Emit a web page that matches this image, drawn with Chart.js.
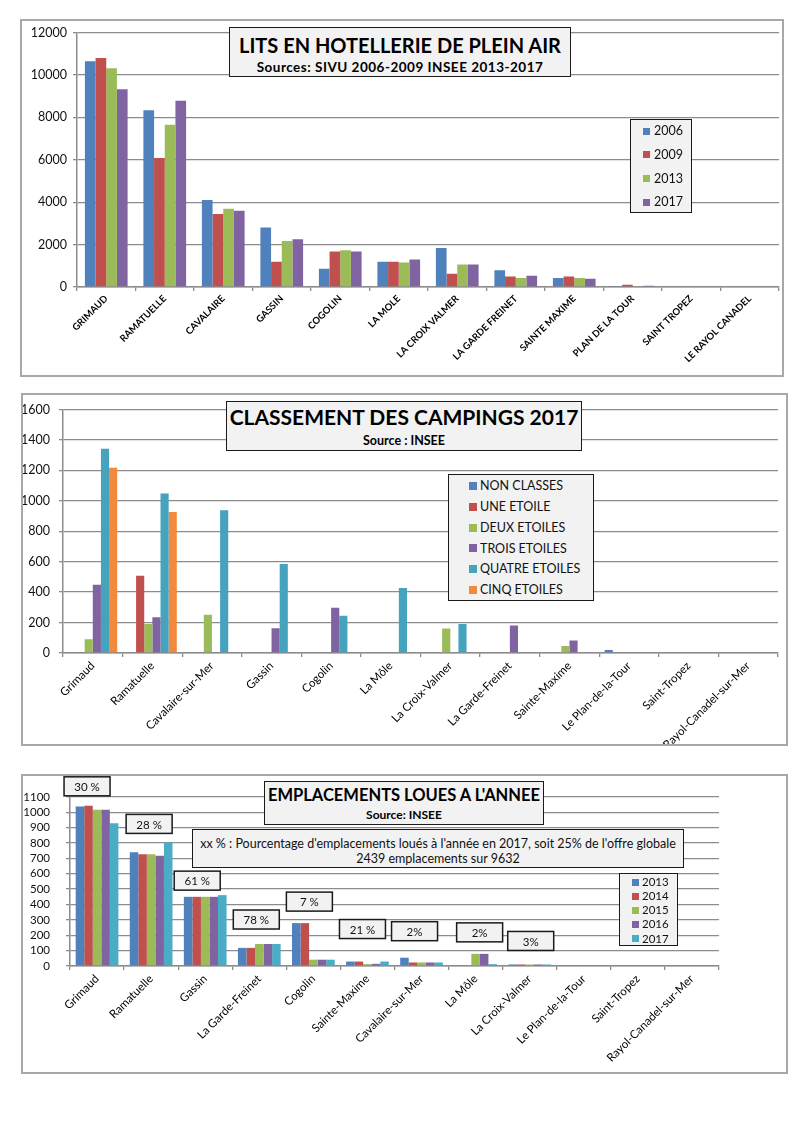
<!DOCTYPE html>
<html><head><meta charset="utf-8">
<script src="https://cdn.jsdelivr.net/npm/chart.js@4.4.0/dist/chart.umd.min.js"></script>
<style>
body{margin:0;background:#fff;}
#page{position:relative;width:800px;height:1132px;font-family:Lato,"Open Sans",sans-serif;color:#111;overflow:hidden;}
canvas{position:absolute;}
.frame{position:absolute;box-sizing:border-box;border:2px solid #a8a8a8;pointer-events:none;}
.tbox{position:absolute;box-sizing:border-box;border:1.6px solid #1a1a1a;background:#f2f2f2;}
.tbox span{position:absolute;left:0;right:0;text-align:center;white-space:nowrap;font-weight:bold;color:#000;}
.lg{position:absolute;box-sizing:border-box;border:1.6px solid #1a1a1a;background:#f2f2f2;}
.lg .it{position:absolute;white-space:nowrap;color:#111;}
.lg .sq{position:absolute;}
.info{position:absolute;box-sizing:border-box;border:1.6px solid #1a1a1a;background:#f2f2f2;}
.info span{position:absolute;left:0;right:0;text-align:center;white-space:nowrap;color:#111;font-size:12.5px;}
</style></head>
<body><div id="page">
<canvas id="c1" width="763" height="357" style="left:20px;top:19px;width:763px;height:357px"></canvas>
<div class="frame" style="left:20px;top:19px;width:764px;height:358px"></div>
<canvas id="c2" width="766" height="352" style="left:21px;top:393px;width:766px;height:352px"></canvas>
<div class="frame" style="left:21px;top:393px;width:767px;height:353px"></div>
<canvas id="c3" width="766" height="299" style="left:21px;top:774px;width:766px;height:299px"></canvas>
<div class="frame" style="left:21px;top:774px;width:767px;height:300px"></div>

<div class="tbox" style="left:229px;top:27px;width:342px;height:50px">
  <span style="top:5px;font-size:20px;line-height:24px">LITS EN HOTELLERIE DE PLEIN AIR</span>
  <span style="top:32px;font-size:13.5px;line-height:15px;letter-spacing:0.5px">Sources: SIVU 2006-2009 INSEE 2013-2017</span>
</div>
<div class="tbox" style="left:226px;top:401px;width:356px;height:50px">
  <span style="top:3px;font-size:21px;line-height:24px">CLASSEMENT DES CAMPINGS 2017</span>
  <span style="top:32px;font-size:12.5px;line-height:14px">Source : INSEE</span>
</div>
<div class="tbox" style="left:264px;top:781px;width:280px;height:44px">
  <span style="top:3px;font-size:16.5px;line-height:20px">EMPLACEMENTS LOUES A L'ANNEE</span>
  <span style="top:26px;font-size:12px;line-height:14px">Source: INSEE</span>
</div>
<div class="info" style="left:192px;top:829px;width:492px;height:39px">
  <span style="top:7px;line-height:13px">xx % : Pourcentage d'emplacements loués à l'année en 2017, soit 25% de l'offre globale</span>
  <span style="top:22px;line-height:13px">2439 emplacements sur 9632</span>
</div>
</div>
<script>
// ---------- DATA ----------
const cats1 = ['GRIMAUD','RAMATUELLE','CAVALAIRE','GASSIN','COGOLIN','LA MOLE','LA CROIX VALMER','LA GARDE FREINET','SAINTE MAXIME','PLAN DE LA TOUR','SAINT TROPEZ','LE RAYOL CANADEL'];
const years1 = ['2006','2009','2013','2017'];
const lits2006 = [10650, 8330, 4100, 2810, 860, 1190, 1840, 790, 420, 50, 0, 0];
const lits2009 = [10800, 6080, 3440, 1190, 1670, 1190, 630, 490, 500, 110, 0, 0];
const lits2013 = [10320, 7650, 3690, 2170, 1730, 1150, 1060, 420, 420, 0, 0, 0];
const lits2017 = [9330, 8780, 3600, 2250, 1670, 1300, 1060, 530, 390, 60, 0, 0];

const cats2 = ['Grimaud','Ramatuelle','Cavalaire-sur-Mer','Gassin','Cogolin','La Môle','La Croix-Valmer','La Garde-Freinet','Sainte-Maxime','Le Plan-de-la-Tour','Saint-Tropez','Rayol-Canadel-sur-Mer'];
const classes2 = ['NON CLASSES','UNE ETOILE','DEUX ETOILES','TROIS ETOILES','QUATRE ETOILES','CINQ ETOILES'];
const nonClasses   = [0, 0, 0, 0, 0, 0, 0, 0, 0, 19, 0, 0];
const uneEtoile    = [0, 507, 0, 0, 0, 0, 0, 0, 0, 0, 0, 0];
const deuxEtoiles  = [91, 190, 252, 0, 0, 0, 161, 0, 46, 0, 0, 0];
const troisEtoiles = [448, 235, 0, 163, 298, 0, 0, 180, 82, 0, 0, 0];
const quatreEtoiles= [1342, 1048, 938, 585, 245, 427, 190, 0, 0, 0, 0, 0];
const cinqEtoiles  = [1217, 926, 0, 0, 0, 0, 0, 0, 0, 0, 0, 0];

const cats3 = ['Grimaud','Ramatuelle','Gassin','La Garde-Freinet','Cogolin','Sainte-Maxime','Cavalaire-sur-Mer','La Môle','La Croix-Valmer','Le Plan-de-la-Tour','Saint-Tropez','Rayol-Canadel-sur-Mer'];
const years3 = ['2013','2014','2015','2016','2017'];
const empl2013 = [1038, 740, 450, 118, 279, 29, 54, 0, 10, 0, 0, 0];
const empl2014 = [1042, 727, 450, 118, 279, 29, 23, 0, 10, 0, 0, 0];
const empl2015 = [1017, 727, 450, 143, 41, 12, 23, 79, 10, 0, 0, 0];
const empl2016 = [1017, 717, 450, 143, 41, 14, 23, 79, 10, 0, 0, 0];
const empl2017 = [928, 804, 461, 143, 41, 29, 23, 12, 10, 0, 0, 0];
const pctLabels = ['30 %','28 %','61 %','78 %','7 %','21 %','2%','2%','3%','','',''];

// ---------- STYLE ----------
const FONT = 'Lato, "Open Sans", sans-serif';
Chart.defaults.font.family = FONT;
Chart.defaults.color = '#111';
Chart.defaults.animation = false;
const GRID = '#8c8c8c';
const BLUE='#4F81BD', RED='#C0504D', GREEN='#9BBB59', PURPLE='#8064A2', CYAN='#4BACC6', TEAL='#46A3BD', ORANGE='#F18A3C';

const pctPlugin = {
  id:'pctBoxes',
  afterDraw(chart, args, o){
    const ctx = chart.ctx, xs = chart.scales.x, ys = chart.scales.y;
    ctx.save();
    o.labels.forEach((lab,i)=>{
      if(!lab) return;
      const maxV = Math.max(...chart.data.datasets.map(d=>d.data[i]));
      const cx = xs.getPixelForValue(i) + o.shifts[i];
      const bottom = ys.getPixelForValue(maxV) - o.lifts[i];
      const top = Math.max(1, bottom - o.h);
      const w = o.w;
      ctx.fillStyle = '#f2f2f2';
      ctx.fillRect(cx - w/2, top, w, bottom - top);
      ctx.strokeStyle = '#1a1a1a'; ctx.lineWidth = 1.5;
      ctx.strokeRect(cx - w/2, top, w, bottom - top);
      ctx.fillStyle = '#111';
      ctx.font = '11.5px ' + FONT;
      ctx.textAlign = 'center'; ctx.textBaseline = 'middle';
      ctx.fillText(lab, cx, (top + bottom)/2 + 1);
    });
    ctx.restore();
  }
};

function buildChart(id, labels, names, series, colors, cfg){
  const datasets = series.map((d,i)=>({label:names[i], data:d, backgroundColor:colors[i], borderWidth:0,
     barPercentage:1.0, categoryPercentage:cfg.catPct}));
  return new Chart(document.getElementById(id), {
    type:'bar',
    data:{labels, datasets},
    options:{
      responsive:false, maintainAspectRatio:false, animation:false,
      layout:{padding:{left:0, right:cfg.padR, top:cfg.padT, bottom:0}},
      plugins:{legend:{display:false}, tooltip:{enabled:false}, pctBoxes: cfg.pct || false},
      scales:{
        x:{
          offset:true,
          grid:{display:true, drawOnChartArea:false, drawTicks:true, tickLength:4, color:GRID, lineWidth:1.3, offset:true},
          border:{display:true, color:GRID, width:1.5},
          ticks:{autoSkip:false, maxRotation:45, minRotation:45, padding:cfg.xPad, color:'#000', font:cfg.xFont},
          afterFit:(s)=>{ s.height = cfg.xH; }
        },
        y:{
          min:0, max:cfg.yMax,
          ticks:{stepSize:cfg.yStep, autoSkip:false, padding:cfg.yPad, color:'#111', font:cfg.yFont,
                 callback:(v)=>String(v)},
          grid:{color:GRID, lineWidth:1.3, drawTicks:true, tickLength:4},
          border:{display:true, color:GRID, width:1.5},
          afterFit:(s)=>{ s.width = cfg.yW; }
        }
      }
    },
    plugins: cfg.pct ? [pctPlugin] : []
  });
}

function htmlLegend(chart, box, it){
  const page = document.getElementById('page');
  const d = document.createElement('div');
  d.className = 'lg';
  Object.assign(d.style, {left:box.l+'px', top:box.t+'px', width:box.w+'px', height:box.h+'px'});
  chart.data.datasets.forEach((ds,i)=>{
    const yc = it.y0 + i*it.step;
    const sq = document.createElement('div');
    sq.className = 'sq';
    Object.assign(sq.style, {left:it.sx+'px', top:(yc - it.s/2)+'px', width:it.s+'px', height:it.s+'px', background:ds.backgroundColor});
    const tx = document.createElement('div');
    tx.className = 'it';
    tx.textContent = ds.label;
    Object.assign(tx.style, {left:it.tx+'px', top:(yc - it.fs*0.62)+'px', fontSize:it.fs+'px', lineHeight:(it.fs*1.2)+'px'});
    d.appendChild(sq); d.appendChild(tx);
  });
  page.appendChild(d);
}

// Chart 1
const ch1 = buildChart('c1', cats1, years1, [lits2006, lits2009, lits2013, lits2017], [BLUE, RED, GREEN, PURPLE], {
  catPct:0.73, padR:4, padT:13, xH:89, yW:57, yMax:12000, yStep:2000, yPad:6, xPad:2,
  xFont:{size:9.5, weight:'bold'}, yFont:{size:12.5}
});
htmlLegend(ch1, {l:630,t:119,w:62,h:94}, {y0:11, step:23.7, s:7, sx:12, tx:23, fs:12.5});

// Chart 2
const ch2 = buildChart('c2', cats2, classes2, [nonClasses, uneEtoile, deuxEtoiles, troisEtoiles, quatreEtoiles, cinqEtoiles], [BLUE, RED, GREEN, PURPLE, TEAL, ORANGE], {
  catPct:0.82, padR:9, padT:8, xH:92, yW:42, yMax:1600, yStep:200, yPad:9, xPad:2,
  xFont:{size:11.5}, yFont:{size:12.5}
});
htmlLegend(ch2, {l:448,t:474,w:146,h:127}, {y0:11, step:20.8, s:8, sx:20, tx:31, fs:12.5});

// Chart 3
const ch3 = buildChart('c3', cats3, years3, [empl2013, empl2014, empl2015, empl2016, empl2017], [BLUE, RED, GREEN, PURPLE, CYAN], {
  catPct:0.79, padR:68, padT:14, xH:107, yW:49, yMax:1100, yStep:100, yPad:16, xPad:2,
  xFont:{size:11.5}, yFont:{size:11.5},
  pct:{labels:pctLabels, w:46, h:19, shifts:[-10,-2,-8,-3,-4,-5,-7,4,1,0,0,0], lifts:[10,9,5,15,12,23,17,12,14,0,0,0]}
});
htmlLegend(ch3, {l:619,t:873,w:59,h:73}, {y0:8, step:14.2, s:7, sx:12, tx:22, fs:11.5});
</script>
</body></html>
